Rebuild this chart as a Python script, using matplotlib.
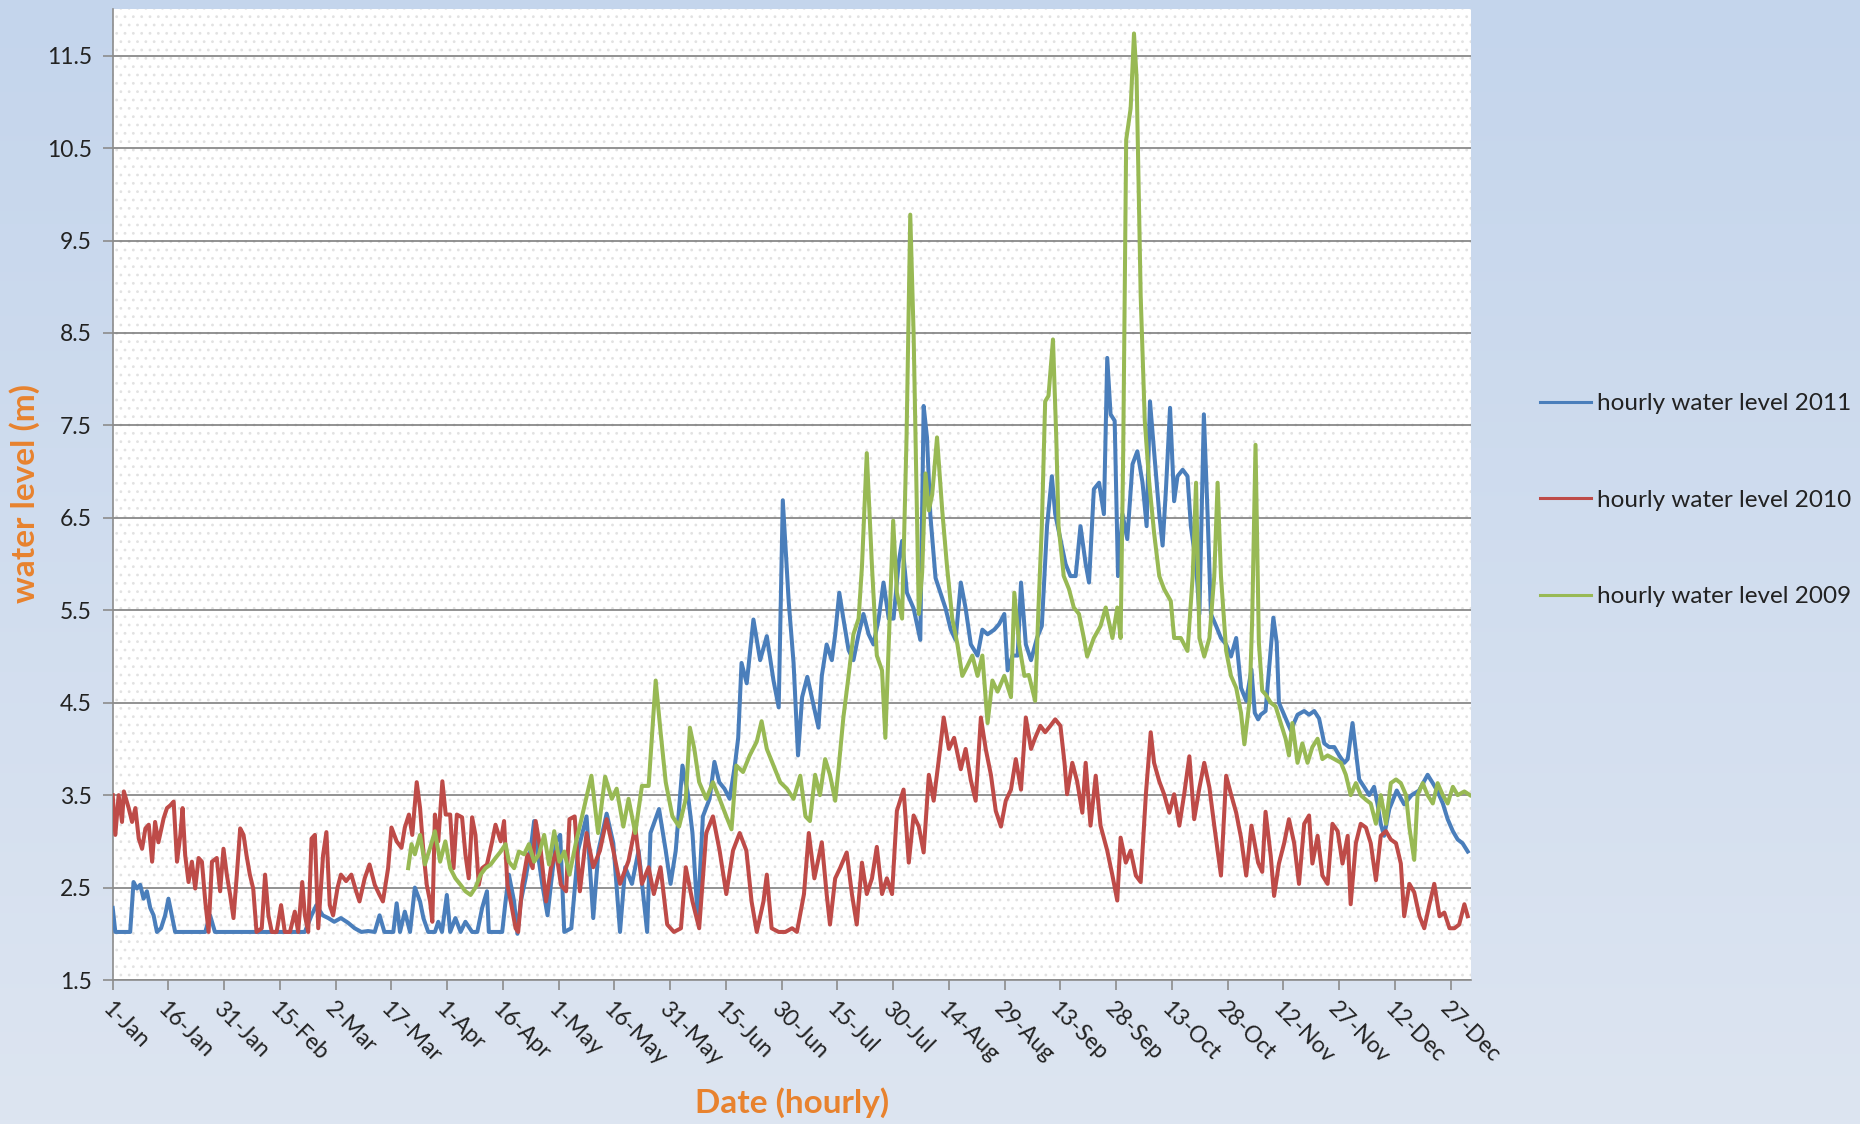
import matplotlib
matplotlib.use('Agg')
import numpy as np
import matplotlib.pyplot as plt
from matplotlib.patches import Rectangle
from matplotlib.colors import LinearSegmentedColormap

# x axis ticks: every 15 days from 1 Jan
tick_days = list(range(0, 361, 15))
tick_labels = ['1-Jan', '16-Jan', '31-Jan', '15-Feb', '2-Mar', '17-Mar', '1-Apr', '16-Apr',
               '1-May', '16-May', '31-May', '15-Jun', '30-Jun', '15-Jul', '30-Jul', '14-Aug',
               '29-Aug', '13-Sep', '28-Sep', '13-Oct', '28-Oct', '12-Nov', '27-Nov', '12-Dec',
               '27-Dec']
y_ticks = [1.5, 2.5, 3.5, 4.5, 5.5, 6.5, 7.5, 8.5, 9.5, 10.5, 11.5]

# hourly water level 2011 (day of year, metres)
days_2011 = [0, 0.7, 4.7, 5.6, 6.5, 7.4, 8.3, 9.2, 10.1, 11.0, 11.9, 13.0, 14.1, 15.0, 15.9, 16.8,
             24.9, 26.2, 27.5, 51.7, 53.5, 54.8, 56.5, 58.0, 59.6, 61.4, 63.3, 65.1, 66.9, 68.7,
             70.5, 71.8, 73.1, 75.5, 76.4, 77.3, 78.6, 80.0, 81.3, 82.7, 83.6, 84.9, 86.7, 87.6,
             88.6, 89.9, 90.8, 92.2, 93.6, 94.9, 96.7, 98.1, 99.4, 100.7, 101.2, 104.8, 105.7,
             106.6, 108.0, 108.9, 109.8, 111.1, 112.5, 113.4, 114.3, 115.6, 117.0, 117.9, 119.3,
             120.4, 121.5, 123.4, 125.2, 127.5, 129.3, 130.7, 132.9, 134.7, 136.5, 137.9, 139.7,
             141.5, 143.8, 144.7, 147.0, 148.8, 150.1, 151.5, 153.3, 154.7, 156.0, 157.4, 158.8,
             160.6, 161.9, 163.2, 164.6, 166.0, 167.4, 168.3, 169.2, 170.6, 172.4, 174.2, 176.0,
             177.8, 179.2, 180.3, 181.9, 183.2, 184.4, 185.5, 186.9, 188.1, 189.9, 190.8, 192.1,
             193.5, 194.4, 195.5, 196.6, 198.0, 199.3, 200.7, 202.0, 203.4, 204.7, 206.1, 207.4,
             208.8, 210.1, 211.5, 212.4, 213.7, 215.5, 217.3, 218.2, 219.1, 220.0, 221.4, 222.7,
             224.1, 225.5, 226.8, 228.2, 229.5, 230.9, 232.7, 234.0, 235.4, 237.2, 238.5, 239.9,
             240.8, 242.1, 243.5, 244.4, 245.7, 247.1, 248.7, 250.0, 251.4, 252.7, 253.6, 255.0,
             256.4, 257.7, 259.1, 260.4, 261.8, 262.7, 264.0, 265.4, 266.7, 267.6, 268.5, 269.6,
             270.5, 271.7, 273.0, 274.4, 275.7, 277.1, 278.2, 279.1, 280.2, 281.6, 282.5, 283.4,
             284.5, 285.6, 286.5, 287.9, 289.2, 290.1, 291.5, 292.4, 293.6, 294.6, 295.5, 296.9,
             298.2, 299.6, 300.9, 302.3, 303.6, 305.0, 306.4, 307.3, 308.2, 308.9, 310.2, 311.4,
             312.3, 313.2, 313.8, 315.2, 317.0, 318.8, 320.6, 321.9, 323.3, 324.6, 326.0, 327.3,
             328.7, 330.0, 331.4, 332.3, 333.6, 334.5, 335.4, 336.7, 338.1, 339.4, 340.3, 341.2,
             342.1, 343.5, 345.5, 347.5, 349.5, 351.5, 353.8, 355.2, 356.5, 357.9, 359.2, 360.6,
             361.9, 363.2, 364.6]
level_2011 = [2.28, 2.02, 2.02, 2.56, 2.49, 2.53, 2.38, 2.46, 2.28, 2.20, 2.02, 2.06, 2.20, 2.38, 2.20, 2.02,
              2.02, 2.20, 2.02, 2.02, 2.20, 2.31, 2.20, 2.17, 2.13, 2.17, 2.12, 2.06, 2.02, 2.03,
              2.02, 2.20, 2.02, 2.02, 2.33, 2.02, 2.24, 2.02, 2.50, 2.35, 2.17, 2.02, 2.02, 2.13,
              2.02, 2.42, 2.02, 2.17, 2.02, 2.13, 2.02, 2.02, 2.28, 2.46, 2.02, 2.02, 2.35,
              2.64, 2.35, 2.00, 2.35, 2.60, 2.93, 3.22, 2.89, 2.53, 2.20, 2.53, 3.00,
              3.07, 2.02, 2.06, 2.90, 3.27, 2.17, 2.90, 3.30, 2.98, 2.02, 2.72, 2.54,
              2.90, 2.02, 3.09, 3.35, 2.90, 2.54, 2.90, 3.82, 3.53, 3.09, 2.17, 3.27,
              3.46, 3.86, 3.64, 3.57, 3.46, 3.82, 4.12, 4.93, 4.71, 5.40, 4.96, 5.22,
              4.74, 4.45, 6.69, 5.59, 4.93, 3.93, 4.56, 4.78, 4.56, 4.23, 4.79, 5.13,
              4.96, 5.24, 5.69, 5.41, 5.07, 4.96, 5.24, 5.46, 5.24, 5.13, 5.41, 5.80,
              5.41, 5.41, 6.02, 6.25, 5.69, 5.52, 5.18, 7.71, 7.37, 6.53, 5.85, 5.69,
              5.52, 5.29, 5.18, 5.80, 5.52, 5.13, 5.01, 5.29, 5.24, 5.29, 5.35, 5.46,
              4.85, 5.01, 5.01, 5.80, 5.13, 4.96, 5.20, 5.33, 6.41, 6.95, 6.54, 6.27,
              6.00, 5.87, 5.87, 6.41, 6.00, 5.80, 6.81, 6.88, 6.54, 8.23, 7.62, 7.55,
              5.87, 6.54, 6.27, 7.08, 7.22, 6.88, 6.41, 7.76, 7.22, 6.54, 6.20, 6.81,
              7.69, 6.68, 6.95, 7.02, 6.95, 6.41, 6.00, 5.46, 7.62, 6.54, 5.46, 5.33,
              5.20, 5.13, 5.00, 5.20, 4.66, 4.52, 4.86, 4.39, 4.32, 4.37, 4.41, 4.98,
              5.42, 5.15, 4.50, 4.37, 4.20, 4.37, 4.41, 4.37, 4.41, 4.33, 4.06, 4.02,
              4.02, 3.93, 3.85, 3.89, 4.28, 3.98, 3.67, 3.59, 3.50, 3.59, 3.41, 3.19,
              3.06, 3.35, 3.55, 3.40, 3.50, 3.55, 3.72, 3.63, 3.54, 3.41, 3.24, 3.11,
              3.02, 2.98, 2.89]

# hourly water level 2010
days_2010 = [0, 0.7, 1.6, 2.5, 3.0, 4.3, 5.2, 6.1, 7.0, 7.9, 8.8, 9.7, 10.6, 11.4, 12.3, 13.7,
             14.6, 15.5, 16.4, 17.3, 18.2, 18.8, 19.5, 20.4, 21.3, 22.2, 23.1, 24.0, 24.9, 25.8,
             26.7, 28.0, 28.9, 29.8, 30.7, 31.6, 32.5, 33.4, 34.3, 35.2, 36.0, 36.9, 37.8, 38.7,
             40.1, 41.0, 41.9, 42.8, 44.1, 45.3, 46.3, 47.7, 49.0, 49.9, 51.0, 51.7, 52.6, 53.5,
             54.4, 55.3, 56.6, 57.5, 58.4, 59.3, 60.5, 61.4, 62.8, 64.2, 65.5, 66.4, 67.8, 69.1,
             70.5, 71.8, 72.7, 74.1, 75.0, 76.4, 77.7, 78.6, 79.7, 80.6, 81.8, 82.7, 83.6, 84.5,
             85.4, 86.0, 86.7, 87.6, 88.7, 89.6, 90.8, 91.7, 92.6, 94.0, 94.9, 95.8, 96.7, 97.6,
             98.5, 99.4, 100.7, 102.1, 103.0, 104.4, 105.3, 106.2, 107.1, 108.4, 109.1, 110.2,
             111.6, 113.0, 113.8, 115.2, 116.6, 117.9, 119.3, 120.6, 122.0, 122.9, 124.3, 125.7,
             127.5, 129.3, 131.1, 132.9, 134.7, 136.5, 138.8, 140.6, 142.4, 144.2, 145.6, 147.4,
             149.2, 151.0, 152.9, 154.2, 156.0, 157.8, 159.7, 161.5, 163.3, 165.1, 166.9, 168.7,
             170.5, 171.9, 173.3, 175.1, 176.0, 177.3, 179.2, 181.0, 182.8, 184.1, 186.0, 187.3,
             188.8, 190.8, 192.1, 193.0, 194.4, 195.7, 197.5, 198.9, 200.2, 201.6, 202.9, 204.3,
             205.6, 207.0, 208.3, 209.7, 211.0, 212.8, 214.2, 215.5, 216.9, 218.2, 219.6, 220.9,
             222.3, 223.6, 225.0, 226.4, 228.2, 229.5, 230.9, 232.2, 233.6, 234.9, 236.3, 237.6,
             239.0, 240.3, 241.7, 243.0, 244.4, 245.7, 247.1, 248.2, 249.6, 250.9, 252.3, 253.6,
             255.0, 256.1, 256.8, 258.2, 259.5, 260.9, 261.8, 263.1, 264.5, 265.8, 267.6, 269.0,
             270.3, 271.2, 272.6, 273.9, 275.3, 276.6, 278.0, 279.3, 280.2, 281.6, 282.9, 284.3,
             285.6, 287.0, 288.3, 289.7, 291.0, 292.4, 293.7, 295.1, 296.4, 298.2, 299.6, 300.9,
             302.3, 303.6, 305.0, 306.4, 308.2, 309.3, 310.2, 311.6, 312.5, 313.8, 315.2, 316.5,
             317.9, 319.2, 320.6, 321.9, 322.8, 324.2, 325.5, 326.9, 328.2, 329.6, 330.9, 332.3,
             333.1, 334.5, 335.8, 337.2, 338.5, 339.9, 341.2, 342.6, 343.9, 345.3, 346.6, 347.5,
             348.9, 350.2, 351.6, 352.9, 354.3, 355.6, 357.0, 358.3, 359.7, 361.0, 362.3, 363.7,
             364.6]
level_2010 = [3.50, 3.07, 3.50, 3.21, 3.54, 3.36, 3.21, 3.36, 3.03, 2.92, 3.14, 3.18, 2.78, 3.21, 2.99, 3.25,
              3.36, 3.39, 3.43, 2.78, 3.07, 3.36, 2.85, 2.56, 2.78, 2.49, 2.82, 2.78, 2.35, 2.02,
              2.78, 2.82, 2.46, 2.92, 2.64, 2.42, 2.17, 2.64, 3.14, 3.07, 2.85, 2.64, 2.49, 2.02,
              2.06, 2.64, 2.20, 2.02, 2.02, 2.31, 2.02, 2.02, 2.24, 2.02, 2.56, 2.20, 2.02, 3.03,
              3.07, 2.06, 2.85, 3.10, 2.31, 2.20, 2.50, 2.64, 2.57, 2.64, 2.46, 2.35, 2.60, 2.75,
              2.53, 2.42, 2.35, 2.71, 3.15, 3.00, 2.93, 3.15, 3.29, 3.07, 3.64, 3.36, 2.89, 2.53,
              2.35, 2.13, 3.29, 3.00, 3.65, 3.29, 3.29, 2.71, 3.29, 3.26, 2.86, 2.60, 3.26, 3.07,
              2.53, 2.71, 2.75, 3.00, 3.18, 3.00, 3.22, 2.53, 2.35, 2.06, 2.02, 2.53,
              2.86, 2.71, 3.22, 2.89, 2.35, 2.71, 2.89, 2.53, 2.46, 3.24, 3.27, 2.46,
              3.09, 2.72, 2.90, 3.24, 2.90, 2.54, 2.79, 3.16, 2.54, 2.72, 2.43, 2.72,
              2.10, 2.02, 2.06, 2.72, 2.35, 2.06, 3.09, 3.27, 2.90, 2.43, 2.90, 3.09,
              2.90, 2.35, 2.02, 2.35, 2.64, 2.06, 2.02, 2.02, 2.06, 2.02, 2.43, 3.09,
              2.60, 2.99, 2.43, 2.10, 2.60, 2.71, 2.88, 2.43, 2.10, 2.77, 2.43, 2.60,
              2.94, 2.43, 2.60, 2.43, 3.33, 3.56, 2.77, 3.28, 3.16, 2.88, 3.72, 3.44,
              3.89, 4.34, 4.00, 4.12, 3.78, 4.00, 3.66, 3.44, 4.34, 4.00, 3.72, 3.33,
              3.16, 3.44, 3.56, 3.89, 3.56, 4.34, 4.00, 4.12, 4.25, 4.18, 4.25, 4.32,
              4.25, 3.85, 3.51, 3.85, 3.65, 3.31, 3.85, 3.17, 3.71, 3.17, 2.90, 2.63,
              2.36, 3.04, 2.77, 2.90, 2.63, 2.56, 3.51, 4.18, 3.85, 3.65, 3.51, 3.31,
              3.51, 3.17, 3.51, 3.92, 3.24, 3.58, 3.85, 3.58, 3.17, 2.63, 3.71, 3.51,
              3.31, 3.04, 2.63, 3.17, 2.77, 2.67, 3.32, 2.84, 2.41, 2.76, 2.98, 3.24,
              2.98, 2.54, 3.19, 3.28, 2.76, 3.06, 2.63, 2.54, 3.19, 3.11, 2.76, 3.06,
              2.32, 2.98, 3.19, 3.15, 2.98, 2.58, 3.06, 3.11, 3.02, 2.98, 2.76, 2.19,
              2.54, 2.45, 2.19, 2.06, 2.32, 2.54, 2.19, 2.23, 2.06, 2.06, 2.10, 2.32,
              2.19]

# hourly water level 2009 (record starts mid-March)
days_2009 = [79.5, 80.4, 81.3, 82.7, 84.0, 85.4, 86.7, 88.1, 89.5, 90.8, 92.2, 93.6, 94.9, 96.3,
             97.6, 99.0, 100.3, 101.7, 103.0, 104.4, 105.7, 106.6, 108.0, 109.3, 110.7, 112.0,
             113.4, 114.7, 116.1, 117.4, 118.8, 120.2, 121.5, 122.9, 124.7, 126.0, 128.8, 130.6,
             132.5, 134.3, 135.6, 137.4, 138.8, 140.6, 142.4, 144.2, 146.1, 147.4, 148.8, 150.6,
             152.4, 154.2, 155.3, 156.5, 157.8, 159.7, 161.5, 163.3, 165.1, 166.5, 167.8, 169.6,
             171.4, 173.3, 174.6, 176.0, 177.8, 179.6, 181.4, 183.2, 185.0, 186.4, 187.6, 189.0,
             190.3, 191.7, 193.0, 194.4, 195.3, 196.6, 198.0, 199.3, 200.7, 201.6, 202.9, 204.3,
             205.6, 207.0, 207.9, 208.8, 210.0, 211.0, 212.4, 213.6, 214.6, 215.5, 216.9, 217.8,
             218.7, 219.6, 220.5, 221.8, 223.2, 224.5, 225.9, 227.3, 228.6, 230.0, 231.3, 232.7,
             234.0, 235.4, 236.7, 238.1, 239.9, 241.7, 242.6, 243.9, 245.3, 246.5, 248.2, 249.1,
             250.0, 250.9, 251.8, 253.0, 253.9, 254.5, 255.9, 257.3, 258.6, 260.0, 261.3, 262.2,
             264.0, 265.8, 267.2, 269.0, 270.3, 271.2, 271.9, 272.7, 273.9, 274.8, 275.5, 276.6,
             277.7, 278.9, 280.2, 281.6, 282.9, 284.7, 285.6, 287.4, 289.2, 290.6, 291.5, 292.4,
             293.7, 295.1, 296.4, 297.3, 298.2, 299.6, 300.9, 302.3, 303.6, 304.5, 305.9, 306.6,
             307.5, 308.4, 309.3, 310.2, 311.6, 312.9, 314.3, 315.6, 316.5, 317.4, 318.8, 320.1,
             321.5, 322.8, 324.2, 325.5, 326.9, 328.7, 330.5, 331.8, 333.1, 334.5, 335.8, 337.2,
             338.5, 339.9, 341.2, 342.6, 343.9, 345.3, 346.6, 348.0, 348.9, 350.2, 351.1, 352.5,
             353.8, 355.2, 356.5, 357.9, 359.2, 360.6, 361.9, 363.7, 365.2]
level_2009 = [2.71, 2.97, 2.86, 3.07, 2.75, 2.93, 3.11, 2.78, 3.00, 2.71, 2.60, 2.53, 2.46, 2.42,
              2.50, 2.64, 2.71, 2.75, 2.82, 2.89, 2.97, 2.78, 2.71, 2.89, 2.86, 2.97,
              2.78, 2.86, 3.07, 2.75, 3.11, 2.78, 2.89, 2.64, 3.00, 3.22, 3.71, 3.09,
              3.70, 3.46, 3.57, 3.16, 3.46, 3.09, 3.60, 3.60, 4.74, 4.19, 3.64, 3.27,
              3.16, 3.46, 4.23, 4.00, 3.64, 3.46, 3.64, 3.46, 3.27, 3.13, 3.82, 3.75,
              3.93, 4.08, 4.30, 4.00, 3.82, 3.64, 3.57, 3.46, 3.71, 3.27, 3.22, 3.72,
              3.50, 3.89, 3.72, 3.44, 3.78, 4.34, 4.79, 5.24, 5.41, 5.97, 7.20, 5.97,
              5.01, 4.85, 4.12, 5.13, 6.47, 5.69, 5.41, 7.37, 9.78, 8.49, 5.46, 5.91,
              6.98, 6.58, 6.75, 7.37, 6.58, 5.97, 5.41, 5.13, 4.79, 4.90, 5.01, 4.79,
              5.01, 4.28, 4.74, 4.62, 4.79, 4.56, 5.69, 5.13, 4.79, 4.80, 4.52, 5.53,
              6.41, 7.76, 7.82, 8.43, 7.35, 6.41, 5.87, 5.73, 5.53, 5.46, 5.20, 5.00,
              5.20, 5.33, 5.53, 5.20, 5.53, 5.20, 7.22, 10.59, 10.93, 11.74, 11.26, 8.90,
              7.55, 6.88, 6.34, 5.87, 5.73, 5.60, 5.20, 5.20, 5.06, 5.87, 6.88, 5.20,
              5.00, 5.20, 5.87, 6.88, 5.87, 5.06, 4.79, 4.66, 4.39, 4.05, 4.52, 5.40,
              7.29, 5.15, 4.63, 4.59, 4.50, 4.46, 4.28, 4.11, 3.93, 4.28, 3.85, 4.06,
              3.85, 4.02, 4.11, 3.89, 3.93, 3.89, 3.85, 3.72, 3.50, 3.63, 3.50, 3.45,
              3.41, 3.19, 3.50, 3.19, 3.63, 3.67, 3.63, 3.50, 3.15, 2.80, 3.50, 3.63,
              3.50, 3.41, 3.63, 3.50, 3.41, 3.59, 3.50, 3.54, 3.50]

series_labels = ['hourly water level 2011', 'hourly water level 2010', 'hourly water level 2009']
series_colors = ['#4A7EBB', '#BE4B48', '#98B954']

plt.rcParams['font.family'] = ['Lato', 'DejaVu Sans']
plt.rcParams['hatch.color'] = '#e2e2e2'
plt.rcParams['hatch.linewidth'] = 0.8

fig = plt.figure(figsize=(18.6, 11.24), dpi=100)

# light blue gradient background
bg = fig.add_axes([0, 0, 1, 1], zorder=-10)
grad_cmap = LinearSegmentedColormap.from_list('bg', ['#DDE5F1', '#C4D5EC'])
bg.imshow(np.linspace(0, 1, 256).reshape(-1, 1), aspect='auto', cmap=grad_cmap,
          origin='lower', extent=[0, 1, 0, 1])
bg.axis('off')

ax = fig.add_axes([0.0606, 0.1281, 0.7303, 0.8635])
ax.set_facecolor('white')
ax.add_patch(Rectangle((0, 0), 1, 1, transform=ax.transAxes, facecolor='white',
                       edgecolor='#e2e2e2', hatch='..', lw=0, zorder=0))

for days, level, lab, col in zip([days_2011, days_2010, days_2009],
                                 [level_2011, level_2010, level_2009],
                                 series_labels, series_colors):
    ax.plot(days, level, color=col, lw=2.9, label=lab, zorder=3, solid_joinstyle='round')

ax.set_xlim(0, 365.5)
ax.set_ylim(1.5, 12.0)
ax.set_yticks(y_ticks)
ax.set_yticklabels([f'{v:.1f}' for v in y_ticks])
ax.set_xticks(tick_days)
ax.set_xticklabels(tick_labels, rotation=-45, ha='left', va='top', rotation_mode='anchor')
ax.grid(axis='y', color='#7f7f7f', lw=1.2, zorder=1)
ax.set_axisbelow(True)

for s in ['top', 'right']:
    ax.spines[s].set_visible(False)
for s in ['left', 'bottom']:
    ax.spines[s].set_color('#8c8c8c')
    ax.spines[s].set_linewidth(1.2)
ax.tick_params(axis='both', direction='out', length=7, width=1.2, color='#8c8c8c',
               labelsize=16.5, labelcolor='#222222')
ax.tick_params(axis='y', pad=8)
ax.tick_params(axis='x', pad=6)

fig.text(0.013, 0.561, 'water level (m)', rotation=90, ha='center', va='center',
         fontsize=24, fontweight='bold', color='#E8822E')
fig.text(0.4258, 0.019, 'Date (hourly)', ha='center', va='center',
         fontsize=24, fontweight='bold', color='#E8822E')

handles, labels = ax.get_legend_handles_labels()
leg = fig.legend(handles, labels, loc='center left', bbox_to_anchor=(0.828, 0.555),
                 frameon=False, fontsize=17.5, handlelength=2.1, handletextpad=0.25,
                 labelspacing=3.1, borderpad=0, borderaxespad=0)
for t in leg.get_texts():
    t.set_color('#222222')
for h in leg.legend_handles:
    h.set_linewidth(2.2)

fig.savefig('out.png', dpi=100)
